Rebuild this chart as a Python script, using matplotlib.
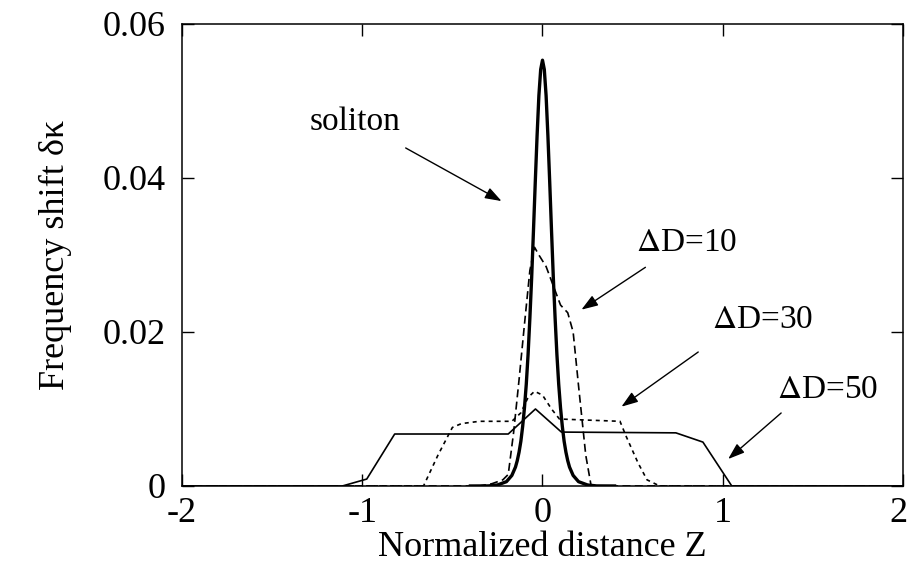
import matplotlib
matplotlib.use('Agg')
import matplotlib.pyplot as plt
from matplotlib.transforms import ScaledTranslation

plt.rcParams['font.family'] = ['Liberation Serif', 'DejaVu Serif']
plt.rcParams['mathtext.fontset'] = 'stix'

# values
soliton_z = [-0.4, -0.3, -0.25, -0.2, -0.17, -0.15, -0.14, -0.13, -0.12, -0.11, -0.10, -0.09,
             -0.08, -0.07, -0.06, -0.05, -0.04, -0.03, -0.02, -0.01, 0.0, 0.01, 0.02, 0.03,
             0.04, 0.05, 0.06, 0.07, 0.08, 0.09, 0.10, 0.11, 0.12, 0.13, 0.14, 0.15, 0.17,
             0.2, 0.25, 0.3, 0.4]
soliton_k = [0.0, 0.00001, 0.00013, 0.00056, 0.00137, 0.00245, 0.00329, 0.00439, 0.00581,
             0.00774, 0.01016, 0.0132, 0.01707, 0.0218, 0.0271, 0.0332, 0.0395, 0.0455,
             0.0507, 0.0541, 0.0553, 0.0541, 0.0507, 0.0455, 0.0395, 0.0332, 0.0271, 0.0218,
             0.01707, 0.0132, 0.01016, 0.00774, 0.00581, 0.00439, 0.00329, 0.00245, 0.00137,
             0.00056, 0.00013, 0.00001, 0.0]

d10_z = [-2.0, -0.35, -0.28, -0.22, -0.19, -0.16, -0.13, -0.10, -0.07, -0.044, -0.02, 0.02,
         0.06, 0.10, 0.14, 0.17, 0.20, 0.24, 0.27, 2.0]
d10_k = [0.0, 0.0, 0.0003, 0.0008, 0.0015, 0.007, 0.0138, 0.021, 0.028, 0.0310, 0.030, 0.0285,
         0.026, 0.0235, 0.0225, 0.020, 0.013, 0.004, 0.0, 0.0]

d30_z = [-2.0, -0.66, -0.58, -0.50, -0.45, -0.35, -0.17, -0.12, -0.08, -0.044, 0.0, 0.05,
         0.094, 0.2, 0.43, 0.465, 0.53, 0.58, 0.65, 2.0]
d30_k = [0.0, 0.0, 0.004, 0.0076, 0.0081, 0.0084, 0.0084, 0.0095, 0.0115, 0.0123, 0.0118,
         0.0100, 0.0087, 0.0086, 0.0084, 0.0064, 0.003, 0.0008, 0.0, 0.0]

d50_z = [-2.0, -1.11, -0.975, -0.82, -0.19, -0.039, 0.105, 0.74, 0.89, 1.05, 2.0]
d50_k = [0.0, 0.0, 0.0009, 0.00675, 0.00675, 0.0100, 0.0070, 0.0069, 0.0057, 0.0, 0.0]

labels = ['soliton', r'$\Delta$D=10', r'$\Delta$D=30', r'$\Delta$D=50']
label_xy = [(-1.04, 0.0473), (0.80, 0.0316), (1.22, 0.0216), (1.58, 0.0125)]
arrow_from = [(-0.759, 0.0439), (0.571, 0.0284), (0.864, 0.0174), (1.324, 0.00948)]
arrow_to = [(-0.227, 0.0370), (0.216, 0.0229), (0.438, 0.0103), (1.030, 0.0035)]

fig = plt.figure(figsize=(9.09, 5.70), dpi=100)
ax = fig.add_axes([0.2002, 0.1474, 0.7932, 0.8105])

ax.plot(soliton_z, soliton_k, color='black', lw=2.4)
ax.plot(d10_z, d10_k, color='black', lw=1.2, dashes=(4.8, 2.6))
ax.plot(d30_z, d30_k, color='black', lw=1.2, dashes=(2.4, 2.4))
ax.plot(d50_z, d50_k, color='black', lw=1.2)

for txt, pos in zip(labels, label_xy):
    ax.text(pos[0], pos[1], txt, fontsize=24, ha='center', va='center')
for a, b in zip(arrow_from, arrow_to):
    ax.annotate('', xy=b, xytext=a,
                arrowprops=dict(arrowstyle='-|>,head_length=1.0,head_width=0.35',
                                mutation_scale=10, lw=1.0, color='black',
                                shrinkA=0, shrinkB=0))

ax.set_xlim(-2, 2)
ax.set_ylim(0, 0.06)
ax.set_xticks([-2, -1, 0, 1, 2])
ax.set_xticklabels(['-2', '-1', '0', '1', '2'])
ax.set_yticks([0, 0.02, 0.04, 0.06])
ax.set_yticklabels(['0', '0.02', '0.04', '0.06'])
ax.tick_params(direction='in', length=8.5, width=1.0, labelsize=26,
               top=True, right=True, pad=8)
ax.tick_params(axis='y', pad=11.5)
for s in ax.spines.values():
    s.set_linewidth(1.1)

# keep the last x label inside the picture
last = ax.get_xticklabels()[-1]
last.set_transform(last.get_transform() + ScaledTranslation(-3 / 72, 0, fig.dpi_scale_trans))

ax.set_xlabel('Normalized distance Z', fontsize=26, labelpad=1)
ax.set_ylabel('Frequency shift δκ', fontsize=26, labelpad=22)

fig.savefig('out.png', dpi=100)
